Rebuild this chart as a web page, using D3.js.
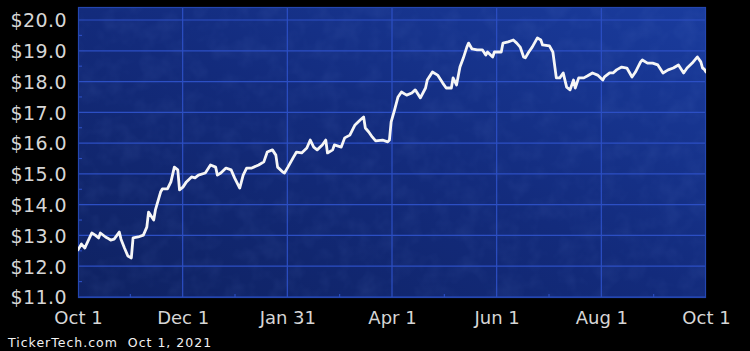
<!DOCTYPE html>
<html>
<head>
<meta charset="utf-8">
<script src="https://cdn.jsdelivr.net/npm/d3@7"></script>
<style>
  html, body { margin: 0; padding: 0; background: #000; }
  svg { display: block; }
</style>
</head>
<body>
<svg id="chart" width="750" height="351"></svg>
<script>
// Daily closing prices, Oct 2020 – Oct 2021
const dates = [
  "2020-10-01","2020-10-03","2020-10-05","2020-10-06","2020-10-09","2020-10-11","2020-10-13","2020-10-14",
  "2020-10-17","2020-10-18","2020-10-20","2020-10-22","2020-10-25","2020-10-26","2020-10-28","2020-10-30",
  "2020-11-01","2020-11-02","2020-11-05","2020-11-08","2020-11-10","2020-11-11","2020-11-14","2020-11-15",
  "2020-11-18","2020-11-19","2020-11-22","2020-11-24","2020-11-26","2020-11-28","2020-11-29","2020-12-01",
  "2020-12-03","2020-12-06","2020-12-08","2020-12-10","2020-12-14","2020-12-17","2020-12-20","2020-12-21",
  "2020-12-23","2020-12-26","2020-12-29","2020-12-31","2021-01-03","2021-01-05","2021-01-07","2021-01-10",
  "2021-01-14","2021-01-17","2021-01-19","2021-01-22","2021-01-24","2021-01-25","2021-01-28","2021-01-29",
  "2021-01-31","2021-02-03","2021-02-05","2021-02-08","2021-02-11","2021-02-13","2021-02-15","2021-02-17",
  "2021-02-20","2021-02-22","2021-02-23","2021-02-26","2021-02-27","2021-03-03","2021-03-05","2021-03-08",
  "2021-03-11","2021-03-14","2021-03-16","2021-03-17","2021-03-19","2021-03-21","2021-03-23","2021-03-27",
  "2021-03-30","2021-03-31","2021-04-01","2021-04-03","2021-04-05","2021-04-07","2021-04-10","2021-04-13",
  "2021-04-15","2021-04-18","2021-04-21","2021-04-22","2021-04-25","2021-04-28","2021-05-01","2021-05-03",
  "2021-05-06","2021-05-07","2021-05-09","2021-05-11","2021-05-13","2021-05-15","2021-05-16","2021-05-18",
  "2021-05-21","2021-05-24","2021-05-26","2021-05-27","2021-05-30","2021-05-31","2021-06-04","2021-06-05",
  "2021-06-08","2021-06-11","2021-06-13","2021-06-15","2021-06-17","2021-06-18","2021-06-20","2021-06-22",
  "2021-06-25","2021-06-27","2021-06-28","2021-07-02","2021-07-04","2021-07-06","2021-07-08","2021-07-10",
  "2021-07-12","2021-07-14","2021-07-16","2021-07-17","2021-07-19","2021-07-22","2021-07-24","2021-07-27",
  "2021-07-30","2021-08-02","2021-08-03","2021-08-06","2021-08-08","2021-08-10","2021-08-13","2021-08-16",
  "2021-08-19","2021-08-21","2021-08-24","2021-08-25","2021-08-28","2021-08-31","2021-09-03","2021-09-06",
  "2021-09-09","2021-09-12","2021-09-15","2021-09-18","2021-09-20","2021-09-23","2021-09-26","2021-09-28",
  "2021-09-29","2021-09-30","2021-10-01"
];
const prices = [
  12.53,12.72,12.59,12.72,13.08,13.01,12.92,13.08,
  12.95,12.92,12.85,12.88,13.11,12.88,12.59,12.33,
  12.27,12.92,12.95,13.01,13.27,13.76,13.50,13.83,
  14.41,14.51,14.51,14.74,15.22,15.13,14.48,14.57,
  14.74,14.90,14.87,14.96,15.03,15.29,15.22,14.96,
  15.03,15.19,15.13,14.87,14.54,14.96,15.19,15.19,
  15.29,15.39,15.71,15.78,15.61,15.22,15.06,15.03,
  15.22,15.52,15.71,15.68,15.84,16.10,15.87,15.78,
  15.94,16.10,15.68,15.78,15.94,15.87,16.17,16.26,
  16.59,16.75,16.85,16.49,16.36,16.20,16.07,16.10,
  16.04,16.10,16.69,17.08,17.50,17.66,17.56,17.63,
  17.73,17.47,17.79,18.05,18.31,18.21,17.95,17.79,
  17.79,18.12,17.89,18.47,18.77,19.12,19.25,19.06,
  19.03,19.03,18.86,18.96,18.80,18.96,18.96,19.25,
  19.29,19.35,19.25,19.12,18.80,18.77,18.96,19.12,
  19.42,19.35,19.19,19.16,18.96,18.12,18.12,18.28,
  17.82,17.73,18.05,17.79,18.12,18.12,18.18,18.28,
  18.21,18.05,18.15,18.28,18.28,18.38,18.47,18.44,
  18.15,18.31,18.64,18.70,18.60,18.60,18.54,18.28,
  18.38,18.44,18.54,18.28,18.44,18.60,18.80,18.64,
  18.44,18.40,18.31
];

// Axis settings
const xStart = "2020-10-01";
const xEnd = "2021-10-01";
const xTickLabels = ["Oct 1", "Dec 1", "Jan 31", "Apr 1", "Jun 1", "Aug 1", "Oct 1"];
const yTicks = [11, 12, 13, 14, 15, 16, 17, 18, 19, 20];
const footerText = "TickerTech.com  Oct 1, 2021";

const parse = d3.utcParse("%Y-%m-%d");
const data = dates.map((d, i) => ({ date: parse(d), price: prices[i] }));

const svg = d3.select("#chart");
const plot = { left: 78, right: 706, top: 7, bottom: 298 };

const x = d3.scaleUtc()
  .domain([parse(xStart), parse(xEnd)])
  .range([plot.left, plot.right]);

const y = d3.scaleLinear()
  .domain([11, 20])
  .range([297, 20]);

// Ticks sit at equal sixths of the date span
const xTickValues = d3.range(xTickLabels.length).map(i =>
  new Date(+x.domain()[0] + (x.domain()[1] - x.domain()[0]) * i / (xTickLabels.length - 1)));

const defs = svg.append("defs");
const grad = defs.append("linearGradient")
  .attr("id", "bg").attr("x1", "0").attr("y1", "1").attr("x2", "1").attr("y2", "0");
grad.append("stop").attr("offset", "0%").attr("stop-color", "#0f2262");
grad.append("stop").attr("offset", "50%").attr("stop-color", "#132b7c");
grad.append("stop").attr("offset", "100%").attr("stop-color", "#1a3c9e");

const noise = defs.append("filter").attr("id", "mottle")
  .attr("x", 0).attr("y", 0).attr("width", "100%").attr("height", "100%");
noise.append("feTurbulence").attr("type", "fractalNoise")
  .attr("baseFrequency", "0.05").attr("numOctaves", 3).attr("seed", 7);
noise.append("feColorMatrix").attr("type", "matrix")
  .attr("values", "0 0 0 0 0.18  0 0 0 0 0.3  0 0 0 0 0.75  0 0 0 0.5 -0.2");

defs.append("clipPath").attr("id", "plotClip")
  .append("rect")
  .attr("x", plot.left).attr("y", plot.top)
  .attr("width", plot.right - plot.left).attr("height", plot.bottom - plot.top);

// Plot background
svg.append("rect")
  .attr("x", plot.left).attr("y", plot.top)
  .attr("width", plot.right - plot.left).attr("height", plot.bottom - plot.top)
  .attr("fill", "url(#bg)");
svg.append("rect")
  .attr("x", plot.left).attr("y", plot.top)
  .attr("width", plot.right - plot.left).attr("height", plot.bottom - plot.top)
  .attr("filter", "url(#mottle)")
  .attr("opacity", 0.35);

// Grid
const gridColor = "#2c4fc4";
const grid = svg.append("g").attr("clip-path", "url(#plotClip)");
grid.selectAll("line.h").data(yTicks).join("line")
  .attr("class", "h")
  .attr("x1", plot.left).attr("x2", plot.right)
  .attr("y1", d => y(d)).attr("y2", d => y(d))
  .attr("stroke", gridColor).attr("stroke-width", 1.2);
grid.selectAll("line.v").data(xTickValues).join("line")
  .attr("class", "v")
  .attr("x1", d => x(d)).attr("x2", d => x(d))
  .attr("y1", plot.top).attr("y2", plot.bottom)
  .attr("stroke", gridColor).attr("stroke-width", 1.2);

// Minor ticks: half dollars on the left, mid-intervals along the bottom
const halfSteps = d3.range(11.5, 20.5, 1);
grid.selectAll("line.my").data(halfSteps).join("line")
  .attr("x1", plot.left).attr("x2", plot.left + 4)
  .attr("y1", d => y(d)).attr("y2", d => y(d))
  .attr("stroke", gridColor).attr("stroke-width", 1.1);
const midDates = xTickValues.slice(1).map((d, i) => new Date((+d + +xTickValues[i]) / 2));
grid.selectAll("line.mx").data(midDates).join("line")
  .attr("x1", d => x(d)).attr("x2", d => x(d))
  .attr("y1", plot.bottom - 4).attr("y2", plot.bottom)
  .attr("stroke", gridColor).attr("stroke-width", 1.1);

svg.append("rect")
  .attr("x", plot.left + 0.5).attr("y", plot.top + 0.5)
  .attr("width", plot.right - plot.left - 1).attr("height", plot.bottom - plot.top - 1)
  .attr("fill", "none").attr("stroke", "#2446b0").attr("stroke-width", 1.2);

// Price line
const line = d3.line().x(d => x(d.date)).y(d => y(d.price)).curve(d3.curveLinear);
svg.append("path")
  .datum(data)
  .attr("clip-path", "url(#plotClip)")
  .attr("d", line)
  .attr("fill", "none")
  .attr("stroke", "#f6f6f6")
  .attr("stroke-width", 2.8)
  .attr("stroke-linejoin", "round")
  .attr("stroke-linecap", "round");

// Y axis labels
const yAxis = d3.axisLeft(y)
  .tickValues(yTicks)
  .tickSize(0)
  .tickPadding(0)
  .tickFormat(d => "$" + d3.format(".1f")(d));
const gy = svg.append("g").attr("transform", "translate(67,0)").call(yAxis);
gy.select(".domain").remove();
gy.selectAll("text")
  .attr("fill", "#d6d6d6")
  .attr("font-family", "DejaVu Sans, sans-serif")
  .attr("font-size", 19)
  .attr("letter-spacing", 0.4)
  .attr("dy", "0.36em");

// X axis labels
const xAxis = d3.axisBottom(x)
  .tickValues(xTickValues)
  .tickSize(0)
  .tickPadding(0)
  .tickFormat((d, i) => xTickLabels[i]);
const gx = svg.append("g").attr("transform", "translate(0,311)").call(xAxis);
gx.select(".domain").remove();
gx.selectAll("text")
  .attr("fill", "#d6d6d6")
  .attr("font-family", "DejaVu Sans, sans-serif")
  .attr("font-size", 18)
  .attr("dy", "0.71em");

// Footer
svg.append("text")
  .attr("x", 8).attr("y", 347)
  .attr("fill", "#f2f2f2")
  .attr("font-family", "DejaVu Sans, sans-serif")
  .attr("font-size", 12.5)
  .attr("letter-spacing", 1.0)
  .style("white-space", "pre")
  .text(footerText);
</script>
</body>
</html>
